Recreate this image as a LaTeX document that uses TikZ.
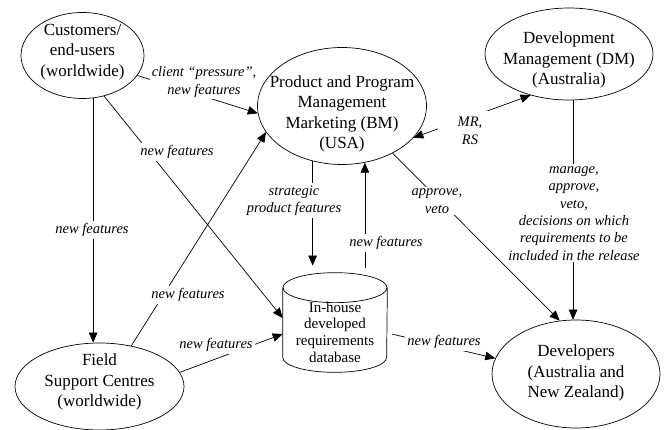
\documentclass[tikz,border=0pt]{standalone}
\usepackage{fontspec}
\setmainfont{Liberation Serif}
\usetikzlibrary{arrows.meta,shapes.geometric}

\tikzset{
  >={Triangle[length=10pt,width=8.5pt]},
  party/.style={draw,ellipse,inner sep=0pt},
  partytext/.style={align=center,font=\fontsize{17}{20.5}\selectfont},
  flowlabel/.style={fill=white,inner sep=2pt,align=center,font=\fontsize{14.5}{17.4}\selectfont\itshape},
}

\begin{document}
\begin{tikzpicture}[x=1pt,y=-1pt,line width=0.7pt]
  \useasboundingbox (0,0) rectangle (665,430);

  % Parties
  \node[party,minimum width=123pt,minimum height=86pt,
    label={[partytext,yshift=3.5pt]center:Customers/\\end-users\\(worldwide)}] (cust) at (82.5,55.5) {};
  \node[party,minimum width=169pt,minimum height=117pt,
    label={[partytext,yshift=-8pt]center:Product and Program\\Management\\Marketing (BM)\\(USA)}] (bm) at (342,106) {};
  \node[party,minimum width=168pt,minimum height=92pt,
    label={[partytext,yshift=-6pt]center:Development\\Management (DM)\\(Australia)}] (dm) at (569,54) {};
  \node[party,minimum width=169pt,minimum height=87pt,
    label={[partytext,yshift=4.5pt]center:Field\\Support Centres\\(worldwide)}] (field) at (99.5,386.5) {};
  \node[party,minimum width=168pt,minimum height=108pt,
    label={[partytext,yshift=1pt]center:Developers\\(Australia and\\New Zealand)}] (dev) at (576,374) {};

  % Requirements database
  \node[minimum width=104pt,minimum height=99pt,inner sep=0pt,
    label={[align=center,font=\fontsize{15}{16.7}\selectfont,yshift=-9.5pt]center:In-house\\developed\\requirements\\database}] (db) at (335,322.5) {};
  \draw ([yshift=-15pt]db.north) ellipse [x radius=52pt,y radius=15pt];
  \draw ([yshift=-15pt]db.north west) -- ([yshift=15pt]db.south west)
    arc [start angle=180,end angle=360,x radius=52pt,y radius=15pt] -- ([yshift=-15pt]db.north east);

  % Flows
  \draw[->] (cust.-76) -- (cust.-76 |- field.north);
  \draw[->] (cust.-20) -- (bm.185);
  \draw[->] (cust.-62) -- ([yshift=4.5pt]db.west);
  \draw[->] (field.52) -- (bm.199);
  \draw[->] (field.10) -- ([yshift=-11.5pt]db.west);
  \draw[->,shorten >=7pt] (bm.242) -- (bm.242 |- db.north);
  \draw[<-,shorten >=5pt] (bm.-68) -- (bm.-68 |- db.north);
  \draw[->] (bm.-43) -- (dev.107);
  \draw[<->] (bm.-24) -- (dm.227);
  \draw[->] (dm.-85) -- (dm.-85 |- dev.north);
  \draw[->,shorten <=5pt] ([yshift=-10.5pt]db.east) -- (dev.169);

  % Flow labels
  \node[flowlabel] (lcf) at (92,230) {new features};
  \node[flowlabel] (lcp) at (204,82) {client “pressure”,\\new features};
  \node[flowlabel] (lcd) at (177,152) {new features};
  \node[flowlabel] (lfb) at (188,295) {new features};
  \node[flowlabel] (lfd) at (216,345) {new features};
  \node[flowlabel] (lsp) at (294,200.5) {strategic\\product features};
  \node[flowlabel] (lnb) at (386,243) {new features};
  \node[flowlabel] (lav) at (437,201) {approve,\\veto};
  \node[flowlabel,inner xsep=20pt,inner ysep=6pt] (lmr) at (470,131) {MR,\\RS};
  \node[flowlabel] (ldm) at (574,213.5) {manage,\\approve,\\veto,\\decisions on which\\requirements to be\\included in the release};
  \node[flowlabel] (ldd) at (444,342) {new features};
\end{tikzpicture}
\end{document}
